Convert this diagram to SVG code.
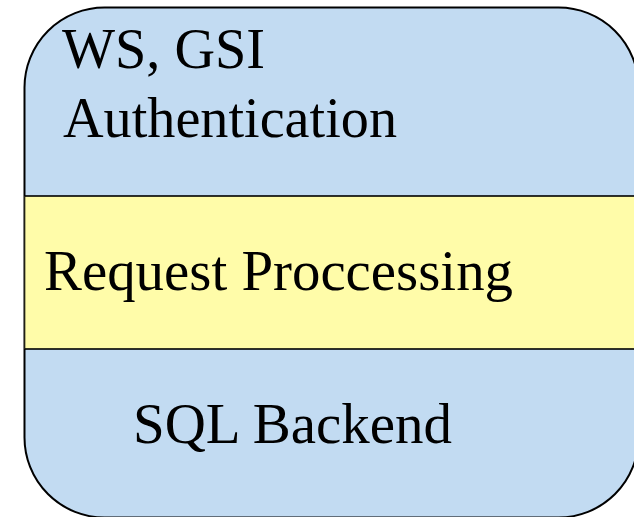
<svg xmlns="http://www.w3.org/2000/svg" width="634" height="517" viewBox="0 0 634 517">
<style>
.t{font-family:"Liberation Serif","Times New Roman",serif;font-size:57px;fill:#000}
</style>
<defs><clipPath id="c"><rect x="24.5" y="7.5" width="614" height="510" rx="80" ry="80"/></clipPath></defs>
<rect width="634" height="517" fill="#fff"/>
<g id="box">
<rect x="24.5" y="7.5" width="614" height="510" rx="80" ry="80" fill="#c2dbf2" stroke="#000" stroke-width="2"/>
</g>
<g id="auth">
<text class="t" x="62" y="67.5" textLength="203" lengthAdjust="spacingAndGlyphs">WS, GSI</text>
<text class="t" x="63" y="136.5" textLength="334" lengthAdjust="spacingAndGlyphs">Authentication</text>
</g>
<g id="request" clip-path="url(#c)">
<rect x="24.5" y="196" width="620" height="153" fill="#fffca9" stroke="#000" stroke-width="1.6"/>
<text class="t" x="44" y="290" textLength="469" lengthAdjust="spacingAndGlyphs">Request Proccessing</text>
</g>
<g id="sql">
<text class="t" x="133" y="443" textLength="319" lengthAdjust="spacingAndGlyphs">SQL Backend</text>
</g>
<g id="connectors"/>
</svg>
